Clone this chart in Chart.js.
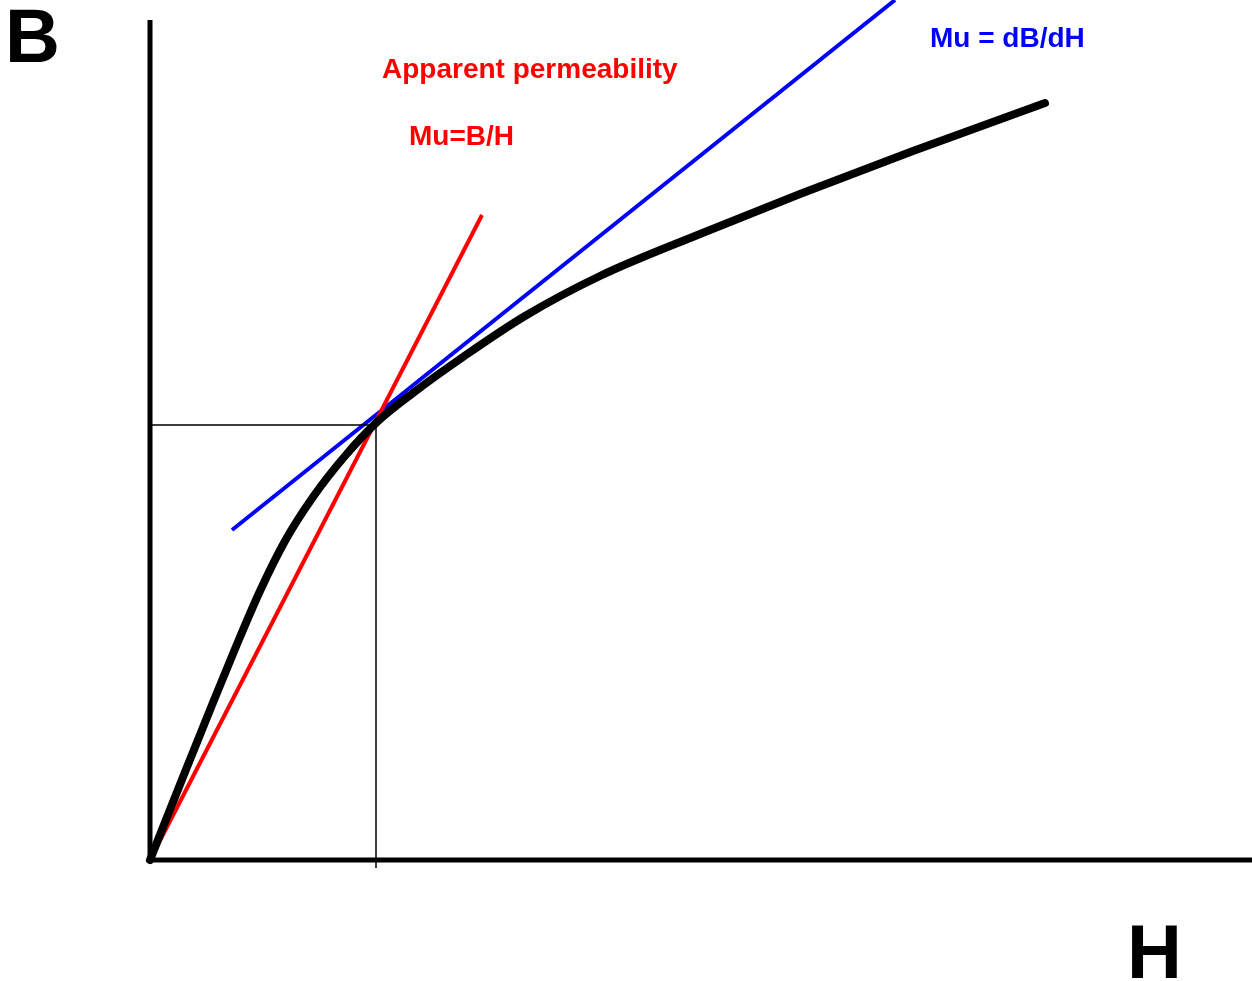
<!DOCTYPE html>
<html>
<head>
<meta charset="utf-8">
<script src="https://cdn.jsdelivr.net/npm/chart.js@4"></script>
<style>
  html, body { margin: 0; padding: 0; background: #fff; }
  #wrap { width: 1252px; height: 981px; }
</style>
</head>
<body>
<div id="wrap"><canvas id="bh"></canvas></div>
<script>
// B-H magnetisation curve (arbitrary units, origin at the axes corner)
var curveH = [0, 33, 60, 85, 110, 135, 163, 195, 227, 263, 313, 375, 450, 550, 650, 763, 895];
var curveB = [0, 83, 150, 211, 269, 319, 363, 404, 438, 467, 503, 544, 584, 626, 666, 709, 757];

// apparent permeability line  B/H  (through origin and working point)
var apparentH = [0, 332];
var apparentB = [0, 645];

// tangent line  dB/dH
var tangentH = [82, 745];
var tangentB = [330, 860];

// working point guide lines
var guideH = [0, 226, 226];
var guideB = [435, 435, -8];

// axes
var axisBH = [0, 0];
var axisBB = [-2, 840];
var axisHH = [-2, 1102];
var axisHB = [0, 0];

function pts(xs, ys) {
  return xs.map(function(x, i) { return { x: x, y: ys[i] }; });
}

var labels = [
  { text: 'B', x: -145, y: 798, color: '#000', font: 'bold 76px "Liberation Sans", Arial, sans-serif' },
  { text: 'H', x: 977, y: -118, color: '#000', font: 'bold 76px "Liberation Sans", Arial, sans-serif' },
  { text: 'Apparent permeability', x: 232, y: 782, color: '#ff0000', font: 'bold 28px "Liberation Sans", Arial, sans-serif' },
  { text: 'Mu=B/H', x: 259, y: 715, color: '#ff0000', font: 'bold 28px "Liberation Sans", Arial, sans-serif' },
  { text: 'Mu = dB/dH', x: 780, y: 813, color: '#0000ff', font: 'bold 28px "Liberation Sans", Arial, sans-serif' }
];

var textPlugin = {
  id: 'textLabels',
  afterDatasetsDraw: function(chart) {
    var ctx = chart.ctx;
    var xs = chart.scales.x, ys = chart.scales.y;
    ctx.save();
    ctx.textBaseline = 'alphabetic';
    labels.forEach(function(l) {
      ctx.font = l.font;
      ctx.fillStyle = l.color;
      ctx.fillText(l.text, xs.getPixelForValue(l.x), ys.getPixelForValue(l.y));
    });
    ctx.restore();
  }
};

new Chart(document.getElementById('bh'), {
  type: 'scatter',
  data: {
    datasets: [
      { data: pts(guideH, guideB), showLine: true, borderColor: '#000', borderWidth: 1.5, pointRadius: 0 },
      { data: pts(axisBH, axisBB), showLine: true, borderColor: '#000', borderWidth: 5, pointRadius: 0 },
      { data: pts(axisHH, axisHB), showLine: true, borderColor: '#000', borderWidth: 5, pointRadius: 0 },
      { data: pts(curveH, curveB), showLine: true, borderColor: '#000', borderWidth: 8, pointRadius: 0,
        cubicInterpolationMode: 'monotone', borderCapStyle: 'round' },
      { data: pts(apparentH, apparentB), showLine: true, borderColor: '#ff0000', borderWidth: 4, pointRadius: 0 },
      { data: pts(tangentH, tangentB), showLine: true, borderColor: '#0000ff', borderWidth: 4, pointRadius: 0 }
    ]
  },
  options: {
    responsive: true,
    maintainAspectRatio: false,
    animation: false,
    layout: { padding: 0 },
    plugins: { legend: { display: false }, tooltip: { enabled: false } },
    scales: {
      x: { type: 'linear', min: -150, max: 1102, display: false },
      y: { type: 'linear', min: -121, max: 860, display: false }
    }
  },
  plugins: [textPlugin]
});
</script>
</body>
</html>
